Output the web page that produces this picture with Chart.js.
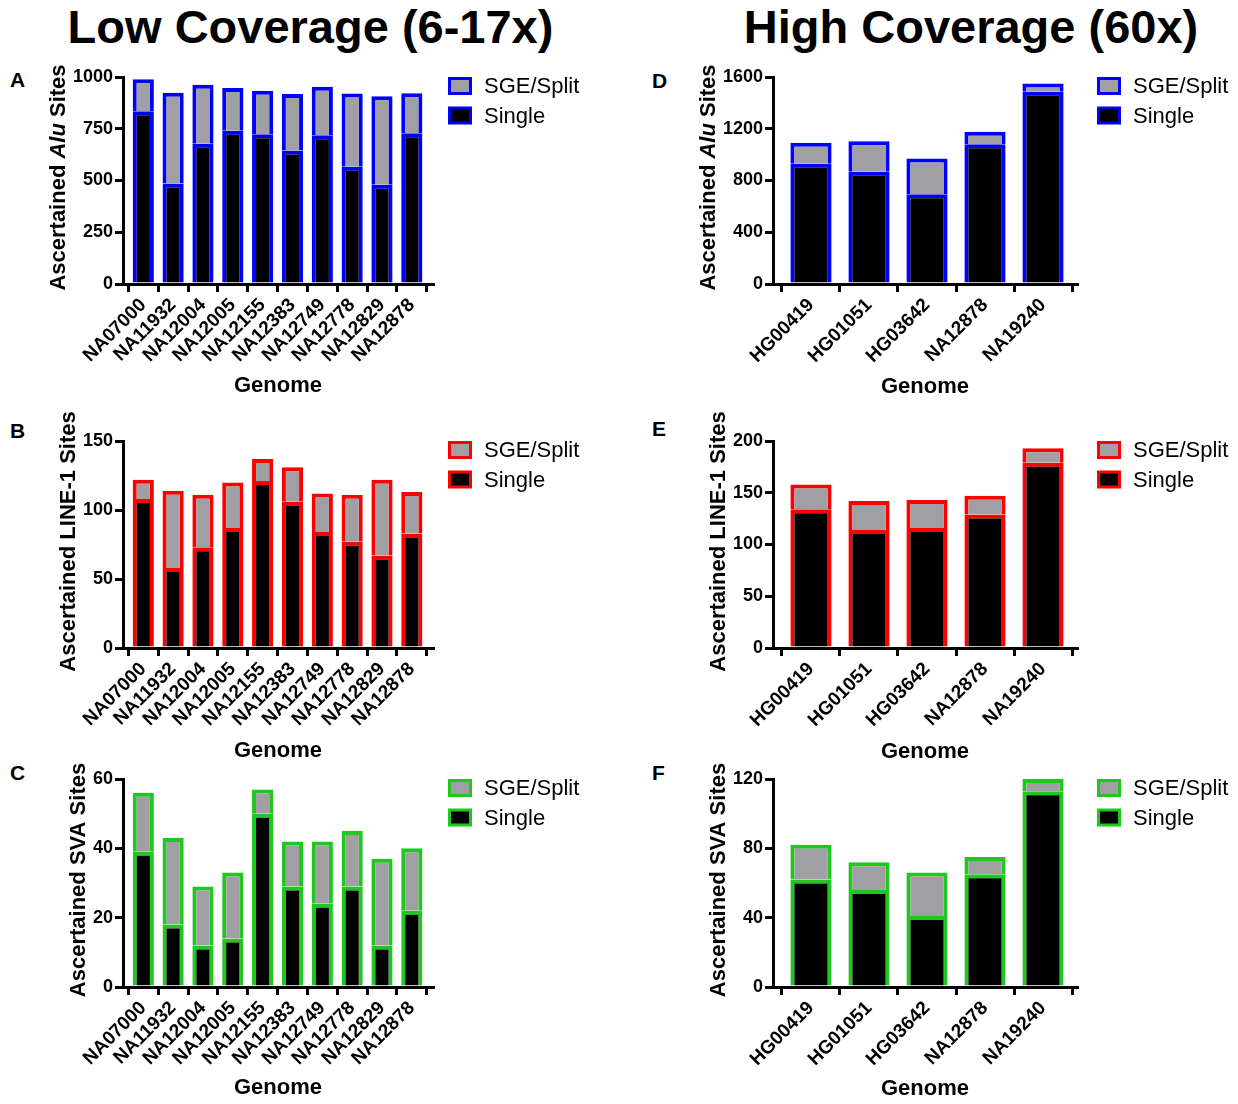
<!DOCTYPE html>
<html>
<head>
<meta charset="utf-8">
<script src="https://cdn.jsdelivr.net/npm/chart.js@4.4.1/dist/chart.umd.min.js"></script>
<style>
  body { margin: 0; background: #fff; }
  #page { position: relative; width: 1238px; height: 1104px; overflow: hidden; font-family: "Liberation Sans", Arial, sans-serif; }
  .head { position: absolute; top: 1px; font-weight: bold; font-size: 47px; line-height: 52px; text-align: center; white-space: nowrap; }
  .letter { position: absolute; font-weight: bold; font-size: 21px; line-height: 23px; }
  canvas { position: absolute; }
</style>
</head>
<body>
<div id="page">
  <div class="head" style="left:0;width:621px">Low Coverage (6-17x)</div>
  <div class="head" style="left:640px;width:662px">High Coverage (60x)</div>
  <div class="letter" style="left:10px;top:68px">A</div>
  <div class="letter" style="left:10px;top:419px">B</div>
  <div class="letter" style="left:10px;top:761px">C</div>
  <div class="letter" style="left:652px;top:69px">D</div>
  <div class="letter" style="left:652px;top:417px">E</div>
  <div class="letter" style="left:652px;top:761px">F</div>
</div>
<script>
const lowGenomes = ['NA07000', 'NA11932', 'NA12004', 'NA12005', 'NA12155', 'NA12383', 'NA12749', 'NA12778', 'NA12829', 'NA12878'];
const highGenomes = ['HG00419', 'HG01051', 'HG03642', 'NA12878', 'NA19240'];
const seriesNames = ['Single', 'SGE/Split'];

// Alu
const aluLowSingle = [835, 486, 678, 740, 723, 645, 718, 567, 480, 728];
const aluLowSplit = [154, 438, 285, 207, 211, 273, 235, 353, 427, 193];
const aluHighSingle = [930, 868, 694, 1080, 1486];
const aluHighSplit = [161, 236, 276, 96, 63];

// LINE-1
const l1LowSingle = [108, 58, 73, 87, 121, 106, 84, 77, 67, 83];
const l1LowSplit = [14, 56, 38, 33, 16, 25, 28, 34, 55, 30];
const l1HighSingle = [134, 114, 116, 129, 179];
const l1HighSplit = [24, 28, 27, 18, 14];

// SVA
const svaLowSingle = [39, 18, 12, 14, 50, 29, 24, 29, 12, 22];
const svaLowSplit = [17, 25, 17, 19, 7, 13, 18, 16, 25, 18];
const svaHighSingle = [62, 56, 41, 65, 113];
const svaHighSplit = [20, 16, 25, 10, 7];

const aluLowTicks = [0, 250, 500, 750, 1000];
const aluHighTicks = [0, 400, 800, 1200, 1600];
const l1LowTicks = [0, 50, 100, 150];
const l1HighTicks = [0, 50, 100, 150, 200];
const svaLowTicks = [0, 20, 40, 60];
const svaHighTicks = [0, 40, 80, 120];

const FONT = "'Liberation Sans', Arial, sans-serif";
const BLUE = '#0000FF', RED = '#FF0000', GREEN = '#1EC81E', GRAY = '#A09FA4';

const aluTitle = [{ text: 'Ascertained ' }, { text: 'Alu', italic: true }, { text: ' Sites' }];
const l1Title = [{ text: 'Ascertained LINE-1 Sites' }];
const svaTitle = [{ text: 'Ascertained SVA Sites' }];

// y title (with italic part) + legend drawn next to the plot
const panelDecor = {
    id: 'panelDecor',
    afterDraw(chart, args, opts) {
        const ctx = chart.ctx;
        const area = chart.chartArea;

        ctx.save();
        ctx.fillStyle = '#000';
        ctx.textBaseline = 'alphabetic';
        const fontOf = p => (p.italic ? 'italic ' : '') + 'bold 22px ' + FONT;
        let total = 0;
        opts.yTitle.forEach(p => { ctx.font = fontOf(p); total += ctx.measureText(p.text).width; });
        ctx.translate(opts.titleX, (area.top + area.bottom) / 2 - 3);
        ctx.rotate(-Math.PI / 2);
        let x = -total / 2;
        opts.yTitle.forEach(p => {
            ctx.font = fontOf(p);
            ctx.fillText(p.text, x, 0);
            x += ctx.measureText(p.text).width;
        });
        ctx.restore();

        ctx.save();
        const sets = chart.data.datasets.slice().reverse();
        sets.forEach((ds, i) => {
            const cy = area.top + 9 + i * 29.5;
            ctx.fillStyle = ds.borderColor;
            ctx.fillRect(opts.legendX, cy - 9, 24, 18);
            ctx.fillStyle = ds.backgroundColor;
            ctx.fillRect(opts.legendX + 3, cy - 6, 18, 12);
            ctx.fillStyle = '#000';
            ctx.font = '22px ' + FONT;
            ctx.textBaseline = 'middle';
            ctx.fillText(ds.label, opts.legendX + 36, cy + 1);
        });
        ctx.restore();
    }
};

const panels = [
    { left: 0, top: 60, width: 640, height: 345, plot: [123, 77, 433, 284], genomeY: 386, titleX: 65, legendX: 448,
      labels: lowGenomes, single: aluLowSingle, split: aluLowSplit, yTicks: aluLowTicks, color: BLUE, yTitle: aluTitle, xMin: -0.68, xMax: 9.71 },
    { left: 0, top: 410, width: 640, height: 360, plot: [123, 441, 433, 648], genomeY: 751, titleX: 75, legendX: 448,
      labels: lowGenomes, single: l1LowSingle, split: l1LowSplit, yTicks: l1LowTicks, color: RED, yTitle: l1Title, xMin: -0.68, xMax: 9.71 },
    { left: 0, top: 760, width: 640, height: 344, plot: [123, 779, 433, 987], genomeY: 1088, titleX: 85, legendX: 448,
      labels: lowGenomes, single: svaLowSingle, split: svaLowSplit, yTicks: svaLowTicks, color: GREEN, yTitle: svaTitle, xMin: -0.68, xMax: 9.71 },
    { left: 640, top: 60, width: 598, height: 345, plot: [773, 77, 1077, 284], genomeY: 387, titleX: 715, legendX: 1097,
      labels: highGenomes, single: aluHighSingle, split: aluHighSplit, yTicks: aluHighTicks, color: BLUE, yTitle: aluTitle, xMin: -0.655, xMax: 4.586 },
    { left: 640, top: 410, width: 598, height: 360, plot: [773, 441, 1077, 648], genomeY: 752, titleX: 725, legendX: 1097,
      labels: highGenomes, single: l1HighSingle, split: l1HighSplit, yTicks: l1HighTicks, color: RED, yTitle: l1Title, xMin: -0.655, xMax: 4.586 },
    { left: 640, top: 760, width: 598, height: 344, plot: [773, 779, 1077, 987], genomeY: 1089, titleX: 725, legendX: 1097,
      labels: highGenomes, single: svaHighSingle, split: svaHighSplit, yTicks: svaHighTicks, color: GREEN, yTitle: svaTitle, xMin: -0.655, xMax: 4.586 }
];

function DrawPanel(p)
{
    const canvas = document.createElement('canvas');
    canvas.width = p.width;
    canvas.height = p.height;
    canvas.style.left = p.left + 'px';
    canvas.style.top = p.top + 'px';
    canvas.style.width = p.width + 'px';
    canvas.style.height = p.height + 'px';
    document.getElementById('page').appendChild(canvas);

    const yTickFont = { family: FONT, size: 18, weight: 'bold' };
    const xTickFont = { family: FONT, size: 19, weight: 'bold' };
    const titlePadBottom = p.height - 13.2 - (p.genomeY - p.top);
    const bar = { borderColor: p.color, borderWidth: 4, borderSkipped: 'start', barPercentage: 0.71, categoryPercentage: 1 };

    new Chart(canvas.getContext('2d'), {
        type: 'bar',
        data: {
            datasets: [
                Object.assign({ label: seriesNames[0], backgroundColor: '#000000',
                    data: p.single.map((v, i) => ({ x: i, y: v })) }, bar),
                Object.assign({ label: seriesNames[1], backgroundColor: GRAY,
                    data: p.split.map((v, i) => ({ x: i, y: v })) }, bar)
            ]
        },
        options: {
            responsive: false,
            animation: false,
            layout: { padding: { top: p.plot[1] - p.top, right: p.width - (p.plot[2] - p.left), bottom: 0, left: 0 } },
            plugins: {
                legend: { display: false },
                tooltip: { enabled: false },
                panelDecor: { yTitle: p.yTitle, titleX: p.titleX - p.left, legendX: p.legendX - p.left }
            },
            scales: {
                x: {
                    type: 'linear', stacked: true, min: p.xMin, max: p.xMax, offset: false,
                    grid: { drawOnChartArea: false, color: '#000', lineWidth: 3, tickLength: 8 },
                    border: { color: '#000', width: 3 },
                    ticks: { stepSize: 1, includeBounds: false, autoSkip: false, minRotation: 45, maxRotation: 45,
                             color: '#000', font: xTickFont, padding: 2, callback: v => p.labels[v] },
                    title: { display: true, text: 'Genome', color: '#000',
                             font: { family: FONT, size: 22, weight: 'bold', lineHeight: 1.2 },
                             padding: { top: 0, bottom: titlePadBottom } },
                    afterFit: s => { s.height = p.height - (p.plot[3] - p.top); }
                },
                y: {
                    stacked: true, min: p.yTicks[0], max: p.yTicks[p.yTicks.length - 1],
                    grid: { drawOnChartArea: false, color: '#000', lineWidth: 3, tickLength: 8 },
                    border: { color: '#000', width: 3 },
                    ticks: { color: '#000', font: yTickFont, padding: 2, callback: v => String(v) },
                    afterBuildTicks: s => { s.ticks = p.yTicks.map(v => ({ value: v })); },
                    afterFit: s => { s.width = p.plot[0] - p.left; }
                }
            }
        },
        plugins: [panelDecor]
    });
}

panels.forEach(p => DrawPanel(p));
</script>
</body>
</html>
